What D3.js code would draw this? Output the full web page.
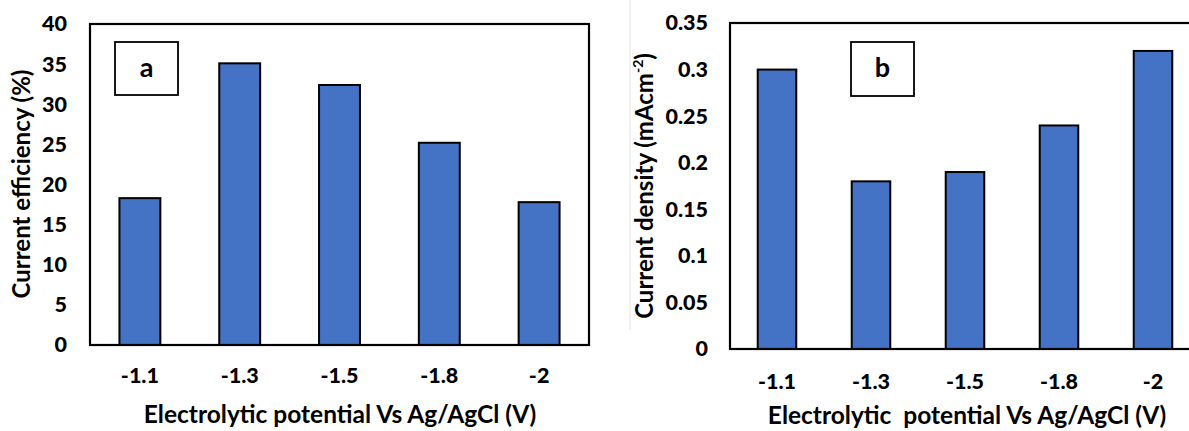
<!DOCTYPE html>
<html lang="en">
<head>
<meta charset="UTF-8">
<title>Current efficiency and current density</title>
<script src="https://d3js.org/d3.v7.min.js"></script>
<style>
  body { margin: 0; background: #fff; }
  svg { display: block; font-family: Lato, "Open Sans", sans-serif; font-weight: bold; }
</style>
</head>
<body>
<svg id="chart" width="1189" height="431"></svg>
<script>
// data
const potentials = ["-1.1", "-1.3", "-1.5", "-1.8", "-2"];
const efficiency = [18.3, 35.1, 32.4, 25.2, 17.8];      // %
const density = [0.30, 0.18, 0.19, 0.24, 0.32];         // mA cm^-2
const effTicks = [0, 5, 10, 15, 20, 25, 30, 35, 40];
const denTicks = [0, 0.05, 0.1, 0.15, 0.2, 0.25, 0.3, 0.35];

const svg = d3.select("#chart");

// faint edge of the first image
svg.append("line")
  .attr("x1", 630).attr("x2", 630).attr("y1", 0).attr("y2", 330)
  .attr("stroke", "#e4e4e4").attr("stroke-width", 1);

function panel(opt) {
  const g = svg.append("g");
  const x = d3.scaleBand().domain(potentials).range([opt.left, opt.right]).paddingInner(0.59).paddingOuter(0.295);
  const y = d3.scaleLinear().domain([0, opt.max]).range([opt.bottom, opt.top]);

  // bars
  g.selectAll("rect.bar")
    .data(opt.values)
    .join("rect")
    .attr("class", "bar")
    .attr("x", (d, i) => x(potentials[i]))
    .attr("width", x.bandwidth())
    .attr("y", d => y(d))
    .attr("height", d => y(0) - y(d))
    .attr("fill", "#4472c4")
    .attr("stroke", "#000")
    .attr("stroke-width", 2);

  // plot frame
  g.append("rect")
    .attr("x", opt.left).attr("y", opt.top)
    .attr("width", opt.right - opt.left).attr("height", opt.bottom - opt.top)
    .attr("fill", "none").attr("stroke", "#000").attr("stroke-width", 2.2);

  // y axis labels
  const ya = g.append("g")
    .attr("transform", `translate(${opt.left},0)`)
    .call(d3.axisLeft(y).tickValues(opt.ticks).tickSize(0).tickPadding(opt.ypad).tickFormat(d3.format("")));
  ya.attr("font-family", null).attr("font-size", null);
  ya.select(".domain").remove();
  ya.selectAll("text").attr("font-size", 21.5).attr("font-weight", 900).attr("fill", "#000");

  // x axis labels
  const xa = g.append("g")
    .attr("transform", `translate(0,${opt.bottom})`)
    .call(d3.axisBottom(x).tickSize(0).tickPadding(opt.xpad));
  xa.attr("font-family", null).attr("font-size", null);
  xa.select(".domain").remove();
  xa.selectAll("text").attr("font-size", 21.5).attr("font-weight", 900).attr("fill", "#000");

  // x title
  g.append("text")
    .attr("x", opt.xTitleX).attr("y", opt.xTitleY)
    .attr("text-anchor", "middle").attr("font-size", 24.5)
    .style("white-space", "pre")
    .text(opt.xTitle);

  // y title
  const yt = g.append("text")
    .attr("transform", `translate(${opt.yTitleX},${opt.yTitleY}) rotate(-90)`)
    .attr("text-anchor", "middle").attr("font-size", 24);
  yt.append("tspan").text(opt.yTitle);
  if (opt.yTitleSup) {
    yt.append("tspan").attr("font-size", 14).attr("dy", -10).text(opt.yTitleSup);
    yt.append("tspan").attr("dy", 10).text(")");
  }

  // panel letter box
  g.append("rect")
    .attr("x", opt.box[0]).attr("y", opt.box[1])
    .attr("width", opt.box[2]).attr("height", opt.box[3])
    .attr("fill", "#fff").attr("stroke", "#000").attr("stroke-width", 1.8);
  g.append("text")
    .attr("x", opt.box[0] + opt.box[2] / 2).attr("y", opt.box[1] + opt.box[3] / 2 + 8)
    .attr("text-anchor", "middle").attr("font-size", 27)
    .text(opt.letter);
}

panel({
  values: efficiency, max: 40, ticks: effTicks,
  left: 90, right: 589, top: 24, bottom: 345,
  ypad: 23, xpad: 23,
  xTitle: "Electrolytic potential Vs Ag/AgCl (V)", xTitleX: 340, xTitleY: 423,
  yTitle: "Current efficiency (%)", yTitleX: 30, yTitleY: 184,
  box: [115, 42, 63, 53], letter: "a"
});

panel({
  values: density, max: 0.35, ticks: denTicks,
  left: 730, right: 1200, top: 23, bottom: 349,
  ypad: 22, xpad: 25,
  xTitle: "Electrolytic  potential Vs Ag/AgCl (V)", xTitleX: 967, xTitleY: 424,
  yTitle: "Current density (mAcm", yTitleSup: "-2", yTitleX: 653, yTitleY: 186,
  box: [851, 42, 63, 54], letter: "b"
});
</script>
</body>
</html>
